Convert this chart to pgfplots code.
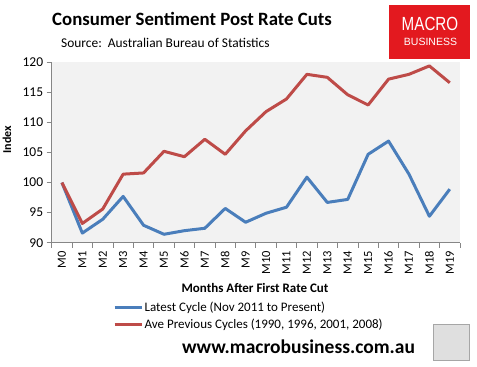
\documentclass[border=0pt]{standalone}
\usepackage{pgfplots}
\pgfplotsset{compat=1.18}
\usepackage{fontspec}
\setmainfont{Carlito}
\newfontfamily\logofont{Liberation Sans}
\definecolor{blueline}{HTML}{4A7EBB}
\definecolor{redline}{HTML}{BE4B48}
\definecolor{axgray}{HTML}{868686}
\definecolor{plotbg}{HTML}{F2F2F2}
\definecolor{mbred}{HTML}{E3191F}
\begin{document}
\begin{tikzpicture}[x=1pt,y=1pt]
\path[use as bounding box, fill=white] (0,0) rectangle (477,-367);
\begin{axis}[
  at={(51.7pt,-242.7pt)}, anchor=south west,
  scale only axis, width=408.3pt, height=180.4pt,
  xmin=-0.5, xmax=19.5, ymin=90, ymax=120,
  axis lines*=left,
  axis line style={axgray, line width=0.8pt},
  axis background/.style={fill=plotbg},
  tick align=outside,
  tick style={axgray, line width=0.8pt},
  major tick length=5pt, minor tick length=5pt,
  xtick={0,...,19},
  xticklabels={M0,M1,M2,M3,M4,M5,M6,M7,M8,M9,M10,M11,M12,M13,M14,M15,M16,M17,M18,M19},
  major x tick style={draw=none},
  minor xtick={-0.5,0.5,...,19.5},
  ytick={90,95,...,120},
  xticklabel style={rotate=90, anchor=east, font=\fontsize{12.5}{12.5}\selectfont},
  yticklabel style={font=\fontsize{13.5}{13.5}\selectfont},
  /pgf/number format/assume math mode=true,
  xlabel={Months After First Rate Cut},
  xlabel style={at={(axis description cs:0.498,-0.249)}, anchor=center, font=\bfseries\fontsize{13}{13}\selectfont},
  ylabel={Index},
  ylabel style={at={(axis description cs:-0.1095,0.571)}, anchor=center, rotate=0, font=\bfseries\fontsize{12}{12}\selectfont},
  legend style={at={(axis description cs:0.15,-0.318)}, anchor=north west, draw=none, fill=none,
    font=\fontsize{13}{13}\selectfont, row sep=2pt, inner sep=0pt,
    nodes={inner xsep=1.5pt}},
  legend cell align=left,
  legend image code/.code={\draw[#1] (0pt,0pt) -- (27pt,0pt);},
  clip=false,
]
\addplot[blueline, line width=3pt, line join=round] coordinates {
(0,100) (1,91.6) (2,93.9) (3,97.7) (4,92.9) (5,91.4) (6,92.0) (7,92.4) (8,95.7) (9,93.4)
(10,94.9) (11,95.9) (12,100.9) (13,96.7) (14,97.2) (15,104.7) (16,106.9) (17,101.4) (18,94.4) (19,98.9)};
\addlegendentry{Latest Cycle (Nov 2011 to Present)}
\addplot[redline, line width=3pt, line join=round] coordinates {
(0,100) (1,93.2) (2,95.6) (3,101.4) (4,101.6) (5,105.2) (6,104.3) (7,107.2) (8,104.7) (9,108.6)
(10,111.8) (11,113.9) (12,118.0) (13,117.5) (14,114.6) (15,112.9) (16,117.2) (17,118.0) (18,119.4) (19,116.6)};
\addlegendentry{Ave Previous Cycles (1990, 1996, 2001, 2008)}
\end{axis}
\node[anchor=west, font=\bfseries\fontsize{18.8}{18.8}\selectfont, inner sep=0pt] at (52,-19) {Consumer Sentiment Post Rate Cuts};
\node[anchor=west, font=\fontsize{13.4}{13.4}\selectfont, inner sep=0pt] at (61,-42.5) {Source:\ \ Australian Bureau of Statistics};
\fill[mbred] (389,-5) rectangle (470,-59);
\node[white, font=\logofont\fontsize{19}{19}\selectfont, xscale=0.8, inner sep=0pt] at (430,-24) {MACRO};
\node[white, font=\logofont\fontsize{10.5}{10.5}\selectfont, inner sep=0pt] at (430.5,-41.5) {BUSINESS};
\node[font=\bfseries\fontsize{19.5}{19.5}\selectfont, inner sep=0pt] at (298.5,-347) {www.macrobusiness.com.au};
\filldraw[draw=gray!70, fill=gray!25, line width=0.8pt] (433,-324) rectangle (469,-360);
\end{tikzpicture}
\end{document}
